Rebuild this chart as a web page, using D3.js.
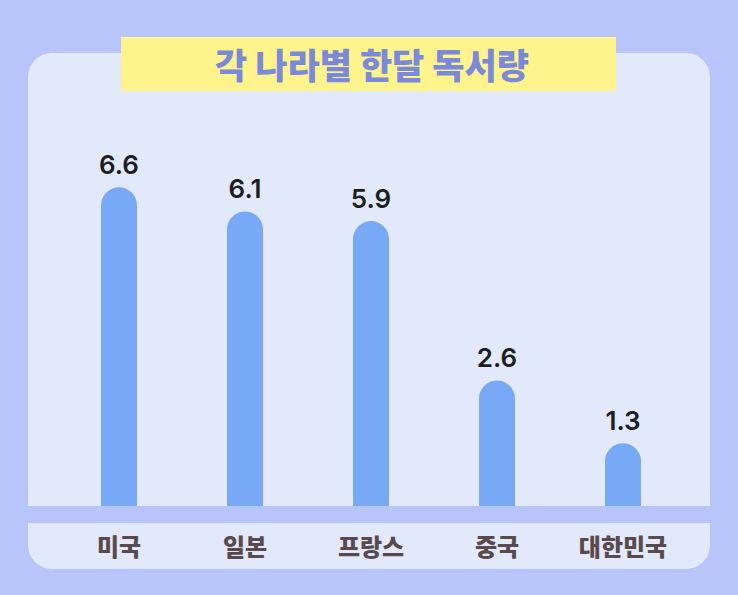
<!DOCTYPE html>
<html>
<head>
<meta charset="utf-8">
<script src="https://cdn.jsdelivr.net/npm/d3@7"></script>
<style>
  html, body { margin: 0; padding: 0; background: #b8c5fa; }
  svg { display: block; }
</style>
</head>
<body>
<svg id="chart" width="738" height="595"></svg>
<script>
// Monthly books read per person, by country
const title = "각 나라별 한달 독서량";
const countries = ["미국", "일본", "프랑스", "중국", "대한민국"];
const books = [6.6, 6.1, 5.9, 2.6, 1.3];
const valueLabels = ["6.6", "6.1", "5.9", "2.6", "1.3"];

const W = 738, H = 595;
const svg = d3.select("#chart");

const panel = { x: 28, y: 53, w: 682, h: 516, r: 24 };
const baseY = 506;      // bottom of the bar area
const bandH = 17;       // gap between bars and label strip
const barW = 36;

svg.append("rect").attr("width", W).attr("height", H).attr("fill", "#b8c5fa");

// rounded card behind the chart
svg.append("rect")
  .attr("x", panel.x).attr("y", panel.y)
  .attr("width", panel.w).attr("height", panel.h)
  .attr("rx", panel.r).attr("ry", panel.r)
  .attr("fill", "#e3e9fc");

// strip separating the bars from the country names
svg.append("rect")
  .attr("x", panel.x).attr("y", baseY)
  .attr("width", panel.w).attr("height", bandH)
  .attr("fill", "#b8c5fa");

// title banner
svg.append("rect")
  .attr("x", 121).attr("y", 37).attr("width", 495).attr("height", 54)
  .attr("fill", "#fff48b");
svg.append("text")
  .attr("x", 372).attr("y", 79)
  .attr("text-anchor", "middle")
  .attr("font-family", "'Noto Sans CJK KR', sans-serif")
  .attr("font-weight", 900)
  .attr("font-size", 35)
  .attr("textLength", 314)
  .attr("lengthAdjust", "spacingAndGlyphs")
  .attr("fill", "#7a89d9")
  .text(title);

const x = d3.scaleBand()
  .domain(countries)
  .range([56, 686])
  .paddingInner(0)
  .paddingOuter(0);

const y = d3.scaleLinear().domain([0, 7]).range([baseY, baseY - 338]);

const data = countries.map((c, i) => ({ c, v: books[i], label: valueLabels[i] }));

// bars with a rounded top cap
const barPath = d => {
  const cx = x(d.c) + x.bandwidth() / 2;
  const x0 = cx - barW / 2, x1 = cx + barW / 2;
  const top = y(d.v), r = barW / 2;
  const p = d3.path();
  p.moveTo(x0, baseY);
  p.lineTo(x0, top + r);
  p.arc(cx, top + r, r, Math.PI, 0);
  p.lineTo(x1, baseY);
  p.closePath();
  return p.toString();
};

svg.append("g").selectAll("path")
  .data(data).join("path")
  .attr("d", barPath)
  .attr("fill", "#78a9f7");

svg.append("g").selectAll("text")
  .data(data).join("text")
  .attr("x", d => x(d.c) + x.bandwidth() / 2)
  .attr("y", d => y(d.v) - 13)
  .attr("text-anchor", "middle")
  .attr("font-family", "Inter, sans-serif")
  .attr("font-weight", 600)
  .attr("font-size", 26)
  .attr("fill", "#1d1d1f")
  .text(d => d.label);

// country names along the bottom strip
const axis = d3.axisBottom(x).tickSize(0).tickPadding(0);
const gx = svg.append("g").attr("transform", `translate(0,${baseY + bandH})`).call(axis);
gx.select(".domain").remove();
gx.selectAll("text")
  .attr("y", 33)
  .attr("dy", 0)
  .attr("font-family", "'Noto Sans CJK KR', sans-serif")
  .attr("font-weight", 900)
  .attr("font-size", 24)
  .attr("fill", "#5a4a4b");
</script>
</body>
</html>
